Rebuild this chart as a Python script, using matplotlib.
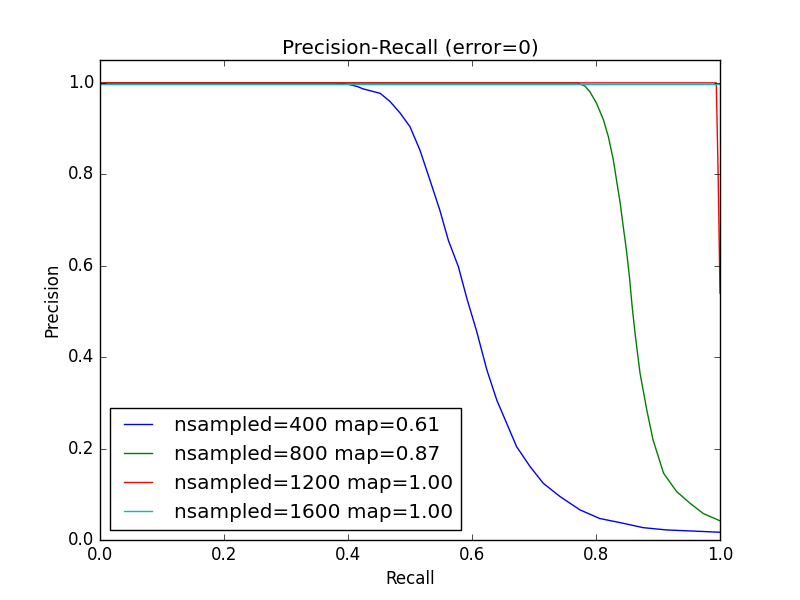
import matplotlib
matplotlib.use("Agg")
import matplotlib.pyplot as plt

plt.style.use("classic")

# Precision-recall curves
recall_400 = [0.0, 0.375, 0.39, 0.403, 0.415, 0.424, 0.452, 0.468, 0.484, 0.5, 0.516,
              0.532, 0.548, 0.562, 0.578, 0.592, 0.607, 0.624, 0.640, 0.656, 0.672,
              0.694, 0.715, 0.742, 0.774, 0.806, 0.839, 0.876, 0.914, 1.0]
prec_400 = [1.0, 1.0, 0.999, 0.996, 0.992, 0.987, 0.977, 0.959, 0.934, 0.904, 0.853,
            0.788, 0.722, 0.655, 0.598, 0.527, 0.459, 0.372, 0.306, 0.255, 0.204,
            0.160, 0.124, 0.095, 0.066, 0.047, 0.038, 0.027, 0.022, 0.017]

recall_800 = [0.0, 0.77, 0.782, 0.79, 0.801, 0.812, 0.820, 0.828, 0.833, 0.839, 0.844,
              0.849, 0.854, 0.858, 0.863, 0.871, 0.882, 0.892, 0.909, 0.930, 0.952,
              0.973, 1.0]
prec_800 = [1.0, 1.0, 0.993, 0.981, 0.955, 0.919, 0.882, 0.831, 0.788, 0.737, 0.685,
            0.635, 0.575, 0.515, 0.452, 0.365, 0.284, 0.219, 0.146, 0.106, 0.080,
            0.058, 0.042]

recall_1200 = [0.0, 0.994, 0.997, 1.0]
prec_1200 = [1.0, 1.0, 0.80, 0.54]

recall_1600 = [0.0, 1.0]
prec_1600 = [0.998, 0.998]

labels = ["nsampled=400 map=0.61", "nsampled=800 map=0.87",
          "nsampled=1200 map=1.00", "nsampled=1600 map=1.00"]

fig, ax = plt.subplots(figsize=(8, 6), dpi=100)
ax.plot(recall_400, prec_400, color="b", label=labels[0])
ax.plot(recall_800, prec_800, color="g", label=labels[1])
ax.plot(recall_1200, prec_1200, color="r", label=labels[2])
ax.plot(recall_1600, prec_1600, color="c", label=labels[3])

ax.set_xlim(0, 1.0)
ax.set_ylim(0, 1.05)
ax.set_xlabel("Recall")
ax.set_ylabel("Precision")
ax.set_title("Precision-Recall (error=0)")
ax.legend(loc="lower left")

fig.savefig("out.png", dpi=100)
